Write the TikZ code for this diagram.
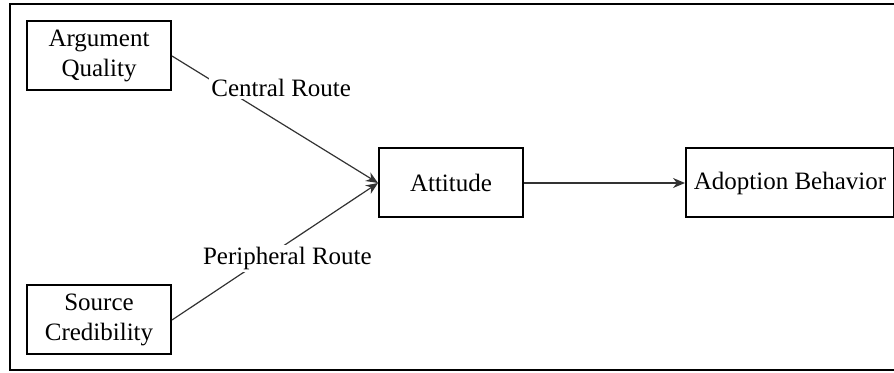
\documentclass[tikz,border=0pt]{standalone}
\usepackage{fontspec}
\setmainfont{Liberation Serif}
\usetikzlibrary{positioning,arrows.meta}

\begin{document}
\begin{tikzpicture}[
		x=0.5pt, y=-0.5pt,
		node distance=96.5pt,
		box/.style={draw, line width=1pt, align=center, minimum width=72pt, minimum height=34.5pt, inner sep=3pt, font=\fontsize{12.5}{15}\selectfont},
		route/.style={fill=white, inner sep=1pt, font=\fontsize{12.5}{15}\selectfont},
		arrow/.style={-{Stealth[length=6pt, width=5pt]}, draw=black!80, line width=0.6pt}
	]
		\useasboundingbox (0,0) rectangle (894,373);
		\draw[line width=1.3pt] (894,4) -- (10,4) -- (10,370) -- (894,370);

		\node[box] (quality) at (99,56) {Argument\\Quality};
		\node[box, below=of quality] (credibility) {Source\\Credibility};
		\node[box] (attitude) at (451,183) {Attitude};
		\node[box, right=80.5pt of attitude, minimum width=104pt] (adoption) {Adoption Behavior};

		\draw[arrow] (quality.east) -- node[route, pos=0.53, yshift=17.5pt] {Central Route} (attitude.west);
		\draw[arrow] (credibility.east) -- node[route, pos=0.56, yshift=-7.75pt] {Peripheral Route} (attitude.west);
		\draw[arrow] (attitude) -- (adoption);
	\end{tikzpicture}
\end{document}
